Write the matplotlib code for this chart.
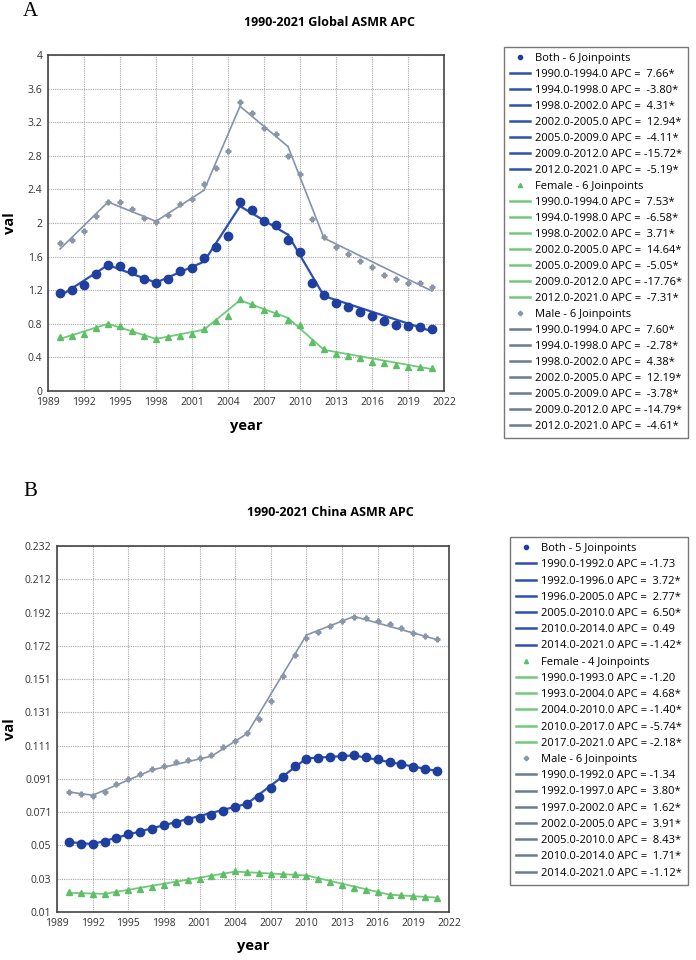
import matplotlib.pyplot as plt
from matplotlib.lines import Line2D

plt.rcParams['font.family'] = ['Open Sans', 'DejaVu Sans']

years = list(range(1990, 2022))

# --- Panel A: Global ---
g_both = [1.17, 1.20, 1.26, 1.39, 1.50, 1.49, 1.43, 1.33, 1.29, 1.33, 1.43, 1.46, 1.58, 1.72, 1.85, 2.25,
          2.15, 2.02, 1.98, 1.80, 1.65, 1.29, 1.14, 1.05, 1.00, 0.94, 0.89, 0.83, 0.79, 0.77, 0.76, 0.74]
g_female = [0.64, 0.65, 0.68, 0.75, 0.80, 0.77, 0.72, 0.66, 0.62, 0.64, 0.66, 0.68, 0.74, 0.83, 0.89, 1.10,
            1.03, 0.96, 0.93, 0.85, 0.78, 0.58, 0.50, 0.44, 0.42, 0.39, 0.35, 0.33, 0.31, 0.29, 0.28, 0.27]
g_male = [1.76, 1.80, 1.90, 2.08, 2.25, 2.25, 2.17, 2.06, 2.01, 2.09, 2.23, 2.29, 2.47, 2.66, 2.86, 3.44,
          3.31, 3.13, 3.06, 2.80, 2.58, 2.05, 1.83, 1.71, 1.63, 1.55, 1.48, 1.38, 1.33, 1.29, 1.28, 1.24]

g_both_jp = [1990, 1994, 1998, 2002, 2005, 2009, 2012, 2021]
g_both_fit = [1.13, 1.50, 1.29, 1.54, 2.20, 1.86, 1.13, 0.71]
g_both_apc = ['7.66*', '-3.80*', '4.31*', '12.94*', '-4.11*', '-15.72*', '-5.19*']
g_female_jp = [1990, 1994, 1998, 2002, 2005, 2009, 2012, 2021]
g_female_fit = [0.62, 0.80, 0.62, 0.73, 1.08, 0.87, 0.49, 0.26]
g_female_apc = ['7.53*', '-6.58*', '3.71*', '14.64*', '-5.05*', '-17.76*', '-7.31*']
g_male_jp = [1990, 1994, 1998, 2002, 2005, 2009, 2012, 2021]
g_male_fit = [1.69, 2.25, 2.02, 2.39, 3.39, 2.91, 1.82, 1.19]
g_male_apc = ['7.60*', '-2.78*', '4.38*', '12.19*', '-3.78*', '-14.79*', '-4.61*']

# --- Panel B: China ---
c_both = [0.0526, 0.0514, 0.0512, 0.0523, 0.0551, 0.0571, 0.0587, 0.0605, 0.0628, 0.0642, 0.0658, 0.0668,
          0.0687, 0.0714, 0.0739, 0.0757, 0.0798, 0.0852, 0.0921, 0.0984, 0.1030, 0.1034, 0.1042, 0.1048,
          0.1052, 0.1042, 0.1028, 0.1012, 0.0996, 0.0981, 0.0967, 0.0955]
c_female = [0.0219, 0.0213, 0.0209, 0.0211, 0.0221, 0.0232, 0.0241, 0.0252, 0.0266, 0.0282, 0.0292, 0.0302,
            0.0318, 0.0332, 0.0347, 0.0343, 0.0338, 0.0332, 0.0330, 0.0329, 0.0320, 0.0298, 0.0280, 0.0266,
            0.0247, 0.0233, 0.0221, 0.0205, 0.0201, 0.0195, 0.0193, 0.0187]
c_male = [0.0830, 0.0814, 0.0806, 0.0830, 0.0875, 0.0907, 0.0937, 0.0967, 0.0987, 0.1008, 0.1022, 0.1032,
          0.1054, 0.1103, 0.1139, 0.1184, 0.1269, 0.1382, 0.1533, 0.1659, 0.1764, 0.1797, 0.1837, 0.1867,
          0.1888, 0.1881, 0.1867, 0.1847, 0.1821, 0.1794, 0.1774, 0.1754]

c_both_jp = [1990, 1992, 1996, 2005, 2010, 2014, 2021]
c_both_fit = [0.0524, 0.0512, 0.0589, 0.0757, 0.1032, 0.1050, 0.0955]
c_both_apc = ['-1.73', '3.72*', '2.77*', '6.50*', '0.49', '-1.42*']
c_female_jp = [1990, 1993, 2004, 2010, 2017, 2021]
c_female_fit = [0.0216, 0.0210, 0.0345, 0.0322, 0.0205, 0.0187]
c_female_apc = ['-1.20', '4.68*', '-1.40*', '-5.74*', '-2.18*']
c_male_jp = [1990, 1992, 1997, 2002, 2005, 2010, 2014, 2021]
c_male_fit = [0.0828, 0.0808, 0.0962, 0.1045, 0.1182, 0.1780, 0.1893, 0.1752]
c_male_apc = ['-1.34', '3.80*', '1.62*', '3.91*', '8.43*', '1.71*', '-1.12*']

xticks = list(range(1989, 2023, 3))
a_yticks = [0, 0.4, 0.8, 1.2, 1.6, 2, 2.4, 2.8, 3.2, 3.6, 4]
a_ylabels = ['0', '0.4', '0.8', '1.2', '1.6', '2', '2.4', '2.8', '3.2', '3.6', '4']
b_ylabels = ['0.01', '0.03', '0.05', '0.071', '0.091', '0.111', '0.131', '0.151', '0.172', '0.192', '0.212', '0.232']
b_yticks = [0.01 + i * 0.222 / 11 for i in range(12)]

C_BOTH = '#1f3f9e'
C_BOTH_L = '#2d4fb0'
C_FEM = '#5cbf66'
C_FEM_L = '#72c97a'
C_MALE = '#8a97aa'
C_MALE_L = '#8593a8'
C_MALE_LEG = '#6b7a90'

W, H = 696, 960
fig = plt.figure(figsize=(W / 100, H / 100), dpi=100)


def seg_label(a, b, apc, wide):
    # APC text is padded like the joinpoint software output
    sep = ' = ' if len(apc.rstrip('*')) >= wide else ' =  '
    return f'{a}.0-{b}.0 APC{sep}{apc}'


def panel(rect, series, xlabel_y, title, title_y, yticks, ylabels, ylim, leg_anchor, leg_sp, letter, letter_y, wide):
    ax = fig.add_axes(rect)
    handles = []
    for name, vals, jp, fit, apc, mk, ms, cm, cl, cleg, lw in series:
        ax.plot(years, vals, linestyle='none', marker=mk, markersize=ms, color=cm, zorder=3)
        handles.append(Line2D([], [], linestyle='none', marker=mk, markersize=3, color=cm,
                              label=f'{name} - {len(jp) - 2} Joinpoints'))
        for i in range(len(jp) - 1):
            ax.plot(jp[i:i + 2], fit[i:i + 2], color=cl, lw=lw, zorder=2)
            handles.append(Line2D([], [], color=cleg, lw=1.8,
                                  label=seg_label(jp[i], jp[i + 1], apc[i], wide)))
    ax.set_xlim(1989, 2022)
    ax.set_ylim(*ylim)
    ax.set_xticks(xticks)
    ax.set_yticks(yticks)
    ax.set_yticklabels(ylabels)
    ax.tick_params(length=0, labelsize=7.5, colors='#333333', pad=4)
    ax.grid(True, linestyle=(0, (1, 1)), color='#a8a8a8', lw=0.8)
    for s in ax.spines.values():
        s.set_color('#444444')
        s.set_linewidth(1.2)
    x0 = rect[0] + rect[2] / 2
    fig.text(x0, xlabel_y, 'year', ha='center', va='center', fontsize=10.5, fontweight='bold')
    fig.text(10 / W, rect[1] + rect[3] / 2, 'val', rotation=90, ha='center', va='center',
             fontsize=10.5, fontweight='bold')
    fig.text(330 / W, title_y, title, ha='center', va='center', fontsize=9, fontweight='bold')
    fig.text(30 / W, letter_y, letter, ha='center', va='center', fontsize=15,
             family=['Liberation Serif', 'DejaVu Serif'])
    leg = fig.legend(handles=handles, loc='upper left', bbox_to_anchor=leg_anchor,
                     fontsize=8, frameon=True, fancybox=False, edgecolor='#555555',
                     handlelength=1.8, handletextpad=0.45, labelspacing=leg_sp,
                     borderpad=0.55, borderaxespad=0)
    leg.get_frame().set_linewidth(1.0)
    return ax


serA = [
    ('Both', g_both, g_both_jp, g_both_fit, g_both_apc, 'o', 6, C_BOTH, C_BOTH_L, C_BOTH_L, 1.6),
    ('Female', g_female, g_female_jp, g_female_fit, g_female_apc, '^', 5, C_FEM, C_FEM_L, C_FEM_L, 1.3),
    ('Male', g_male, g_male_jp, g_male_fit, g_male_apc, 'P', 3.5, C_MALE, C_MALE_L, C_MALE_LEG, 1.2),
]
serB = [
    ('Both', c_both, c_both_jp, c_both_fit, c_both_apc, 'o', 6, C_BOTH, C_BOTH_L, C_BOTH_L, 1.6),
    ('Female', c_female, c_female_jp, c_female_fit, c_female_apc, '^', 5, C_FEM, C_FEM_L, C_FEM_L, 1.3),
    ('Male', c_male, c_male_jp, c_male_fit, c_male_apc, 'P', 3.5, C_MALE, C_MALE_L, C_MALE_LEG, 1.2),
]

panel([48 / W, 1 - 391 / H, 396 / W, 336 / H], serA, 1 - 426 / H, '1990-2021 Global ASMR APC', 1 - 23 / H,
      a_yticks, a_ylabels, (0, 4), (504 / W, 1 - 47 / H), 0.45, 'A', 1 - 12 / H, 6)
panel([57 / W, 1 - 912 / H, 392 / W, 366 / H], serB, 1 - 946 / H, '1990-2021 China ASMR APC', 1 - 512 / H,
      b_yticks, b_ylabels, (0.01, 0.232), (510 / W, 1 - 537 / H), 0.47, 'B', 1 - 492 / H, 5)

fig.savefig('out.png', dpi=100)
